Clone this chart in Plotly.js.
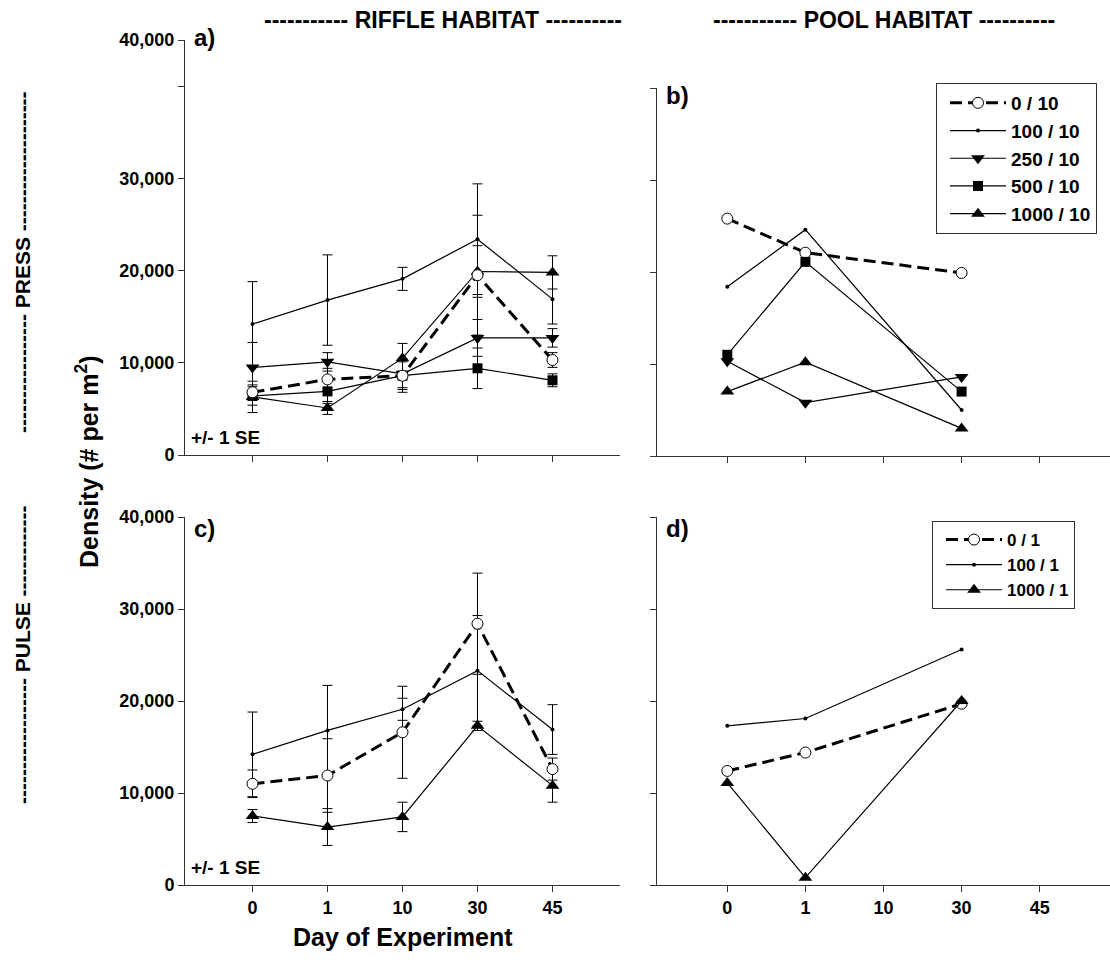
<!DOCTYPE html>
<html><head><meta charset="utf-8">
<script src="https://cdn.plot.ly/plotly-3.0.1.min.js"></script>
<style>body{margin:0;background:#fff}#chart{width:1110px;height:960px}</style>
</head><body><div id="chart"></div>
<script>
// ---- categories ----
const days = ['0','1','10','30','45'];
const poolDays = ['0','1','30'];
const pressNames = ['0 / 10','100 / 10','250 / 10','500 / 10','1000 / 10'];
const pulseNames = ['0 / 1','100 / 1','1000 / 1'];
// ---- y tick labels ----
const yTickValsA = [0,10000,20000,30000,45000];
const yTickTextA = ['0','10,000','20,000','30,000','40,000'];
const yMinorA = [40000];
const yTickValsC = [0,10000,20000,30000,40000];
const yTickTextC = ['0','10,000','20,000','30,000','40,000'];

// ---- a) riffle press (mean, SE) ----
const rp0    = [6800, 8200, 8600, 19500, 10300];
const rp0se  = [800, 1200, 1500, 6500, 800];
const rp100  = [14200, 16800, 19100, 23400, 16900];
const rp100se= [4600, 4900, 1250, 6000, 2700];
const rp250  = [9500, 10100, 8800, 12700, 12700];
const rp250se= [2700, 1000, 1500, 2000, 1000];
const rp500  = [6400, 6900, 8600, 9400, 8100];
const rp500se= [1000, 1300, 1800, 2200, 700];
const rp1000 = [6300, 5100, 10500, 19900, 19800];
const rp1000se=[1700, 700, 1600, 2800, 1800];

// ---- b) pool press ----
const pp0    = [25800, 22100, 19900];
const pp100  = [18400, 24600, 5000];
const pp250  = [10300, 5800, 8600];
const pp500  = [11000, 21100, 7000];
const pp1000 = [7000, 10200, 3000];

// ---- c) riffle pulse ----
const rl0    = [11000, 11900, 16600, 28400, 12600];
const rl0se  = [1500, 4000, 5000, 5500, 1200];
const rl100  = [14200, 16800, 19100, 23300, 16900];
const rl100se= [4600, 4900, 1200, 6000, 2700];
const rl1000 = [7500, 6300, 7400, 17300, 10800];
const rl1000se=[700, 2000, 1600, 500, 1800];

// ---- d) pool pulse ----
const pl0    = [12400, 14400, 19700];
const pl100  = [17300, 18100, 25600];
const pl1000 = [11100, 800, 20000];

const FONT = 'Liberation Sans, Arial, Helvetica, sans-serif';
const styles = {
  c0:   {line:{color:'black', width:3, dash:'12px,6px'}, marker:{symbol:'circle', size:11, color:'white', line:{color:'black', width:1}}},
  c100: {line:{color:'black', width:1.2}, marker:{symbol:'circle', size:4, color:'black'}},
  c250: {line:{color:'black', width:1.2}, marker:{symbol:'triangle-down', size:12, color:'black'}},
  c500: {line:{color:'black', width:1.2}, marker:{symbol:'square', size:10, color:'black'}},
  c1000:{line:{color:'black', width:1.2}, marker:{symbol:'triangle-up', size:12, color:'black'}}
};
function err(arr){ return {type:'data', array:arr, symmetric:true, color:'black', thickness:1, width:5}; }
function tr(x, y, st, xa, ya, opts){
  return Object.assign({type:'scatter', mode:'lines+markers', x:x, y:y, xaxis:xa, yaxis:ya,
    line:st.line, marker:st.marker, showlegend:false, cliponaxis:false}, opts||{});
}
const pressSt = [styles.c0, styles.c100, styles.c250, styles.c500, styles.c1000];
const pulseSt = [styles.c0, styles.c100, styles.c1000];
const rpY = [rp0, rp100, rp250, rp500, rp1000];
const rpE = [rp0se, rp100se, rp250se, rp500se, rp1000se];
const ppY = [pp0, pp100, pp250, pp500, pp1000];
const rlY = [rl0, rl100, rl1000];
const rlE = [rl0se, rl100se, rl1000se];
const plY = [pl0, pl100, pl1000];

const data = [];
[1,2,3,4,0].forEach(i => data.push(tr(days, rpY[i], pressSt[i], 'x', 'y', {error_y: err(rpE[i])})));
[0,1,2,3,4].forEach(i => data.push(tr(poolDays, ppY[i], pressSt[i], 'x2', 'y2',
  {name: pressNames[i], showlegend:true, legend:'legend'})));
[1,2,0].forEach(i => data.push(tr(days, rlY[i], pulseSt[i], 'x3', 'y3', {error_y: err(rlE[i])})));
[0,1,2].forEach(i => data.push(tr(poolDays, plY[i], pulseSt[i], 'x4', 'y4',
  {name: pulseNames[i], showlegend:true, legend:'legend2'})));

const W = 1110, H = 960;
const xa = (d0, d1, labels) => ({domain:[d0/W, d1/W], type:'category', categoryorder:'array', categoryarray:days,
  range:[-0.9, 4.9], showgrid:false, zeroline:false, showline:true, linecolor:'#333', linewidth:1,
  ticks:'outside', ticklen:6, tickcolor:'#333', showticklabels:labels, fixedrange:true,
  tickfont:{family:FONT, size:18, weight:'bold', color:'black'}});
const ya = (top, bot, rng, tv, tt, labels, anchor) => ({domain:[1-bot/H, 1-top/H], range:rng, anchor:anchor,
  showgrid:false, zeroline:false, showline:true, linecolor:'#333', linewidth:1,
  ticks:'outside', ticklen:6, tickcolor:'#333', tickmode:'array', tickvals:tv, ticktext:tt,
  showticklabels:labels, tickfont:{family:FONT, size:18, weight:'bold', color:'black'}});

const tf = (s) => ({family:FONT, size:s, weight:'bold', color:'black'});
const ann = (text, x, y, size, o) => Object.assign({text:text, x:x/W, y:1-y/H, xref:'paper', yref:'paper',
  showarrow:false, font:tf(size), xanchor:'center', yanchor:'middle'}, o||{});

const yA = ya(40, 455, [0,45000], yTickValsA, yTickTextA, true, 'x');
yA.minor = {tickmode:'array', tickvals:yMinorA, ticks:'outside', ticklen:6, tickcolor:'#333', showgrid:false};

const layout = {
  width:W, height:H, margin:{l:0, r:0, t:0, b:0}, paper_bgcolor:'white', plot_bgcolor:'white',
  showlegend:true,
  xaxis:  Object.assign(xa(185, 620, false), {anchor:'y'}),
  yaxis:  yA,
  xaxis2: Object.assign(xa(657, 1110, false), {anchor:'y2'}),
  yaxis2: ya(88, 456, [0,40000], yTickValsC, yTickTextC, false, 'x2'),
  xaxis3: Object.assign(xa(185, 620, true), {anchor:'y3'}),
  yaxis3: ya(517, 885, [0,40000], yTickValsC, yTickTextC, true, 'x3'),
  xaxis4: Object.assign(xa(657, 1110, true), {anchor:'y4'}),
  yaxis4: ya(517, 885, [0,40000], yTickValsC, yTickTextC, false, 'x4'),
  legend: {x:936/W, y:1-83/H, xanchor:'left', yanchor:'top', bgcolor:'white', bordercolor:'#333', borderwidth:1,
    font:tf(19), itemwidth:56, indentation:8, traceorder:'normal', itemclick:false},
  legend2:{x:932/W, y:1-521/H, xanchor:'left', yanchor:'top', bgcolor:'white', bordercolor:'#333', borderwidth:1,
    font:tf(17), itemwidth:56, indentation:8, traceorder:'normal', itemclick:false},
  annotations: [
    ann('----------- RIFFLE HABITAT ----------', 443, 20, 23),
    ann('----------- POOL HABITAT ----------', 884, 20, 23),
    ann('----------------- PRESS --------------------', 22, 262, 21, {textangle:-90}),
    ann('------------------ PULSE -------------', 22, 655, 21, {textangle:-90}),
    ann('Density (# per m<sup>2</sup>)', 87, 462, 25, {textangle:-90}),
    ann('Day of Experiment', 403, 937, 25),
    ann('a)', 192, 38, 24, {xanchor:'left'}),
    ann('b)', 664, 96, 24, {xanchor:'left'}),
    ann('c)', 192, 528, 24, {xanchor:'left'}),
    ann('d)', 664, 528, 24, {xanchor:'left'}),
    ann('+/- 1 SE', 189, 437, 19, {xanchor:'left'}),
    ann('+/- 1 SE', 189, 867, 19, {xanchor:'left'})
  ]
};
Plotly.newPlot('chart', data, layout, {displayModeBar:false, staticPlot:true});
</script></body></html>
